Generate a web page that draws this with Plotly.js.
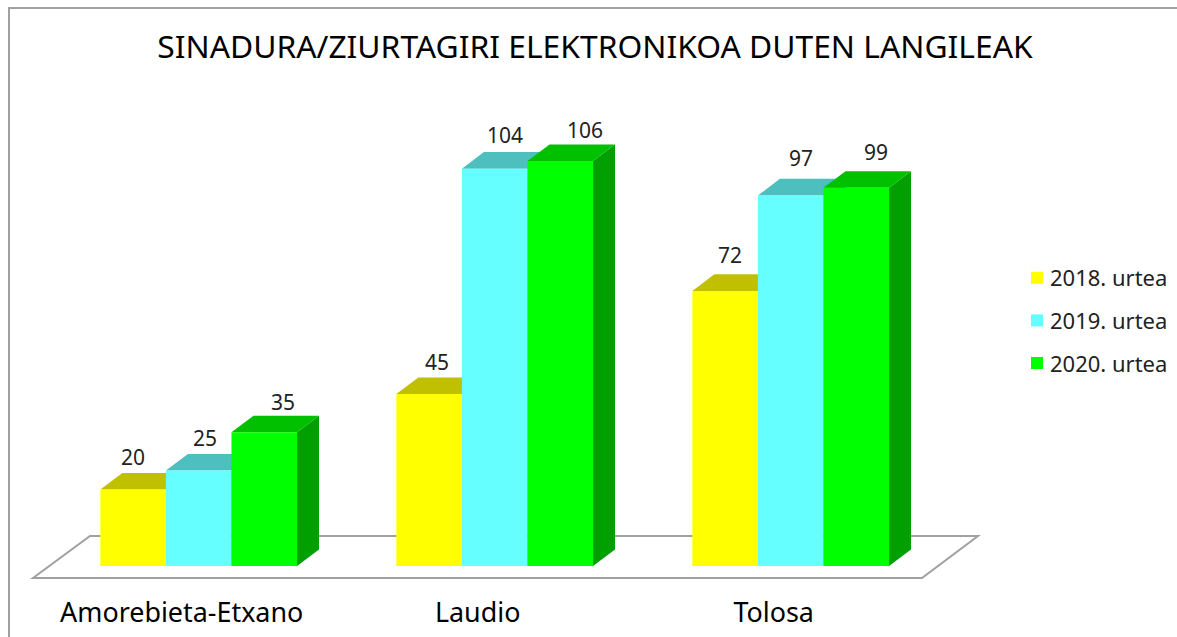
<!DOCTYPE html>
<html>
<head>
<meta charset="utf-8">
<script src="https://cdn.plot.ly/plotly-3.0.1.min.js"></script>
<style>html,body{margin:0;padding:0;background:#fff}#chart{width:1177px;height:637px}</style>
</head>
<body>
<div id="chart"></div>
<script>
const categories = ["Amorebieta-Etxano", "Laudio", "Tolosa"];
const seriesNames = ["2018. urtea", "2019. urtea", "2020. urtea"];
const values2018 = [20, 45, 72];
const values2019 = [25, 104, 97];
const values2020 = [35, 106, 99];
const chartTitle = "SINADURA/ZIURTAGIRI ELEKTRONIKOA DUTEN LANGILEAK";

const allValues = [values2018, values2019, values2020];
const frontColors = ["#FFFF00", "#66FFFF", "#00FF00"];
const topColors = ["#C0C000", "#4DBFBF", "#00C000"];
const sideColors = ["#A0A000", "#3FA0A0", "#00A000"];
// label nudges in pixels relative to each bar's centre/top [series][category]
const labelDx = [[0, 8, 5], [6, 10, 10], [19, 25, 20]];
const labelDy = [[33, 32, 36], [33, 34, 37], [30, 31, 36]];

const W = 1177, H = 637;
const catPx = 296, unitPx = 3.82, x0Px = 198.7, y0Px = 566;
const plotL = 20, plotR = 1000, plotT = 60, plotB = 587;
const barW = 0.2215;
const depthX = 22 / catPx, depthY = 16.6 / unitPx;

const xRange = [(plotL - x0Px) / catPx, (plotR - x0Px) / catPx];
const yRange = [(y0Px - plotB) / unitPx, (y0Px - plotT) / unitPx];
const positions = categories.map((_, i) => i);

function facePolys(vals, s, kind) {
  const xs = [], ys = [];
  vals.forEach((v, i) => {
    const l = i + (s - 1) * barW - barW / 2, r = l + barW;
    if (kind === "top") {
      xs.push(l, r, r + depthX, l + depthX, l, null);
      ys.push(v, v, v + depthY, v + depthY, v, null);
    } else {
      xs.push(r, r + depthX, r + depthX, r, r, null);
      ys.push(0, depthY, v + depthY, v, 0, null);
    }
  });
  return { x: xs, y: ys };
}

const traces = [];
allValues.forEach((vals, s) => {
  ["side", "top"].forEach(kind => {
    const p = facePolys(vals, s, kind);
    traces.push({
      type: "scatter", mode: "lines", x: p.x, y: p.y, fill: "toself",
      fillcolor: kind === "top" ? topColors[s] : sideColors[s],
      line: { width: 0, color: kind === "top" ? topColors[s] : sideColors[s] },
      showlegend: false, hoverinfo: "skip", zorder: 2 * s + 1
    });
  });
  traces.push({
    type: "bar", name: seriesNames[s], x: positions, y: vals,
    width: barW, offset: (s - 1) * barW - barW / 2,
    marker: { color: frontColors[s], line: { width: 0 } },
    legendgroup: seriesNames[s], zorder: 2 * s + 2
  });
});

const annotations = [];
allValues.forEach((vals, s) => vals.forEach((v, i) => {
  annotations.push({
    xref: "x", yref: "y", x: i + (s - 1) * barW, y: v, text: String(v),
    showarrow: false, xanchor: "center", yanchor: "middle",
    xshift: labelDx[s][i], yshift: labelDy[s][i],
    font: { family: "Noto Sans", size: 21, color: "#222" }
  });
}));

const fy = p => (y0Px - p) / unitPx, fx = p => (p - x0Px) / catPx;
const floorPath = `M${fx(33)},${fy(578)}L${fx(90)},${fy(536)}L${fx(978)},${fy(536)}L${fx(922)},${fy(578)}Z`;

const layout = {
  width: W, height: H,
  margin: { l: 0, r: 0, t: 0, b: 0 },
  paper_bgcolor: "#fff", plot_bgcolor: "rgba(0,0,0,0)",
  hovermode: false,
  title: {
    text: chartTitle, x: 595 / W, xanchor: "center", xref: "paper",
    y: 1 - 47 / H, yanchor: "middle", yref: "paper",
    font: { family: "Noto Sans", size: 31.8, color: "#000" }
  },
  barmode: "overlay",
  xaxis: {
    domain: [plotL / W, plotR / W], range: xRange, fixedrange: true,
    tickmode: "array", tickvals: positions.map(i => i - 17 / catPx), ticktext: categories,
    showgrid: false, zeroline: false, showline: false,
    ticks: "outside", ticklen: 2, tickcolor: "rgba(0,0,0,0)",
    tickfont: { family: "Noto Sans", size: 26.9, color: "#000" }
  },
  yaxis: {
    domain: [1 - plotB / H, 1 - plotT / H], range: yRange, fixedrange: true, visible: false
  },
  legend: {
    x: 1010 / W, xanchor: "left", y: 1 - 257 / H, yanchor: "top",
    font: { family: "Noto Sans", size: 22, color: "#222" },
    bgcolor: "rgba(0,0,0,0)", traceorder: "grouped", tracegroupgap: 11
  },
  shapes: [
    { type: "path", layer: "below", xref: "x", yref: "y", path: floorPath,
      fillcolor: "#fff", line: { color: "#A0A0A0", width: 2 } },
    { type: "line", xref: "paper", yref: "paper", x0: 9 / W, x1: 9 / W, y0: 0, y1: 1 - 8 / H,
      line: { color: "#A0A0A0", width: 2 } },
    { type: "line", xref: "paper", yref: "paper", x0: 8 / W, x1: 1, y0: 1 - 8 / H, y1: 1 - 8 / H,
      line: { color: "#A0A0A0", width: 2 } }
  ],
  annotations: annotations
};

Plotly.newPlot("chart", traces, layout, { displayModeBar: false, responsive: false }).then(() => {
  // The reference keeps its legend swatches close to their text.
  document.querySelectorAll(".legend .legendsymbols").forEach(el => el.setAttribute("transform", "translate(7,0)"));
});
</script>
</body>
</html>
